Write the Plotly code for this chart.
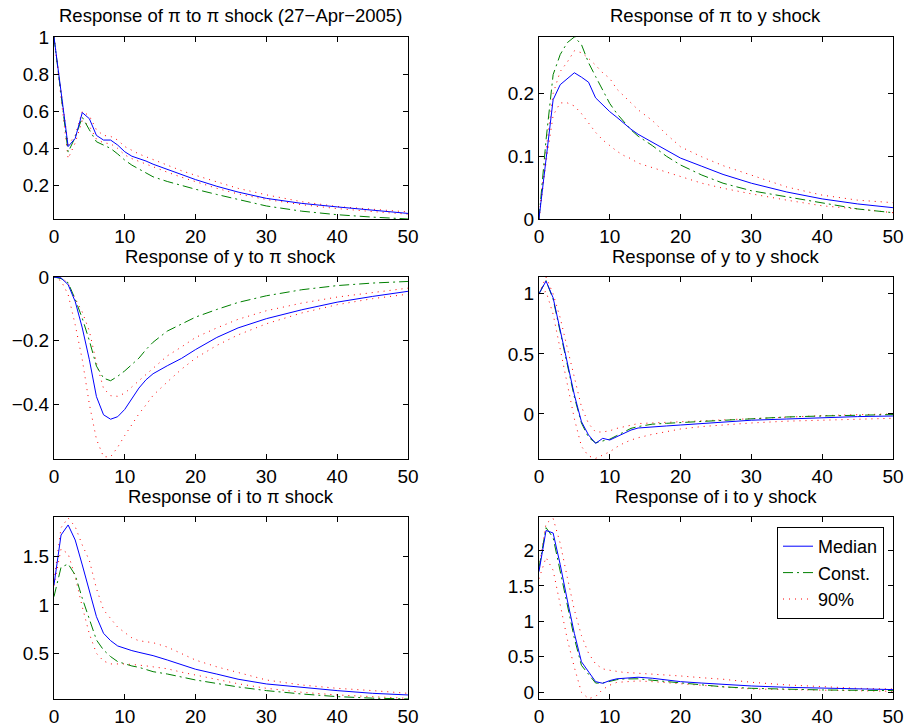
# impulse responses: median, constant-parameter model and 90% bands
import plotly.graph_objects as go

# horizons (quarters)
t = [0, 1, 2, 3, 4, 5, 6, 7, 8, 9, 10, 11, 12, 13, 14, 16, 18, 20, 23, 26, 30, 35, 40, 45, 50]

# response of pi to pi shock
pi_pi_med = [1.0, 0.70, 0.41, 0.454, 0.593, 0.56, 0.47, 0.445, 0.445, 0.418, 0.382, 0.358, 0.346, 0.332, 0.315, 0.287, 0.258, 0.232, 0.196, 0.165, 0.131, 0.104, 0.085, 0.066, 0.05]
pi_pi_const = [1.0, 0.69, 0.38, 0.46, 0.568, 0.50, 0.436, 0.418, 0.40, 0.37, 0.337, 0.31, 0.29, 0.268, 0.247, 0.222, 0.20, 0.18, 0.152, 0.125, 0.09, 0.062, 0.043, 0.03, 0.02]
pi_pi_hi = [1.0, 0.72, 0.42, 0.47, 0.60, 0.575, 0.50, 0.47, 0.465, 0.445, 0.41, 0.39, 0.37, 0.355, 0.34, 0.31, 0.28, 0.255, 0.22, 0.185, 0.15, 0.113, 0.087, 0.072, 0.058]
pi_pi_lo = [1.0, 0.68, 0.345, 0.43, 0.55, 0.52, 0.45, 0.43, 0.425, 0.40, 0.365, 0.345, 0.33, 0.315, 0.30, 0.272, 0.245, 0.22, 0.185, 0.155, 0.125, 0.097, 0.076, 0.06, 0.046]

# response of pi to y shock
pi_y_med = [0.0, 0.099, 0.19, 0.214, 0.223, 0.233, 0.226, 0.218, 0.193, 0.182, 0.171, 0.162, 0.152, 0.143, 0.135, 0.122, 0.11, 0.097, 0.084, 0.071, 0.057, 0.043, 0.032, 0.024, 0.018]
pi_y_const = [0.0, 0.126, 0.23, 0.262, 0.281, 0.29, 0.278, 0.249, 0.227, 0.206, 0.184, 0.168, 0.155, 0.142, 0.132, 0.117, 0.10, 0.086, 0.07, 0.057, 0.045, 0.035, 0.025, 0.016, 0.01]
pi_y_hi = [0.0, 0.11, 0.20, 0.235, 0.25, 0.268, 0.265, 0.256, 0.245, 0.233, 0.224, 0.207, 0.196, 0.185, 0.174, 0.157, 0.135, 0.115, 0.099, 0.085, 0.07, 0.051, 0.038, 0.03, 0.026]
pi_y_lo = [0.0, 0.09, 0.165, 0.185, 0.185, 0.18, 0.168, 0.153, 0.138, 0.126, 0.117, 0.108, 0.101, 0.096, 0.089, 0.082, 0.074, 0.067, 0.057, 0.049, 0.04, 0.03, 0.021, 0.016, 0.01]

# response of y to pi shock
y_pi_med = [0.0, -0.003, -0.024, -0.077, -0.16, -0.26, -0.376, -0.433, -0.447, -0.439, -0.416, -0.381, -0.349, -0.323, -0.304, -0.279, -0.256, -0.228, -0.19, -0.16, -0.131, -0.103, -0.079, -0.061, -0.045]
y_pi_const = [0.0, -0.005, -0.018, -0.07, -0.13, -0.2, -0.28, -0.318, -0.326, -0.312, -0.295, -0.275, -0.255, -0.228, -0.205, -0.17, -0.147, -0.126, -0.102, -0.08, -0.059, -0.04, -0.027, -0.019, -0.014]
y_pi_hi = [0.0, 0.0, -0.02, -0.068, -0.11, -0.17, -0.27, -0.35, -0.373, -0.375, -0.365, -0.345, -0.328, -0.307, -0.286, -0.248, -0.22, -0.19, -0.16, -0.133, -0.106, -0.082, -0.063, -0.05, -0.035]
y_pi_lo = [0.0, -0.012, -0.055, -0.15, -0.26, -0.40, -0.51, -0.565, -0.565, -0.535, -0.498, -0.462, -0.43, -0.402, -0.372, -0.33, -0.29, -0.255, -0.215, -0.182, -0.147, -0.113, -0.087, -0.068, -0.054]

# response of y to y shock
y_y_med = [1.0, 1.106, 0.967, 0.70, 0.423, 0.159, -0.064, -0.175, -0.245, -0.203, -0.217, -0.189, -0.162, -0.134, -0.117, -0.106, -0.10, -0.092, -0.08, -0.066, -0.052, -0.042, -0.031, -0.022, -0.017]
y_y_const = [1.0, 1.11, 0.955, 0.68, 0.40, 0.14, -0.075, -0.195, -0.24, -0.225, -0.21, -0.18, -0.15, -0.12, -0.105, -0.085, -0.078, -0.072, -0.06, -0.048, -0.036, -0.025, -0.017, -0.009, -0.005]
y_y_hi = [1.0, 1.14, 1.0, 0.80, 0.55, 0.30, 0.06, -0.08, -0.15, -0.15, -0.14, -0.12, -0.105, -0.09, -0.08, -0.075, -0.07, -0.065, -0.057, -0.048, -0.036, -0.025, -0.014, -0.006, 0.0]
y_y_lo = [1.0, 1.02, 0.83, 0.54, 0.22, -0.04, -0.27, -0.35, -0.37, -0.345, -0.315, -0.275, -0.242, -0.217, -0.198, -0.17, -0.145, -0.125, -0.105, -0.09, -0.075, -0.06, -0.05, -0.042, -0.036]

# response of i to pi shock
i_pi_med = [1.207, 1.724, 1.828, 1.672, 1.414, 1.138, 0.879, 0.707, 0.631, 0.576, 0.548, 0.528, 0.51, 0.493, 0.476, 0.431, 0.38, 0.335, 0.285, 0.232, 0.183, 0.148, 0.114, 0.086, 0.069]
i_pi_const = [1.086, 1.39, 1.424, 1.31, 1.069, 0.845, 0.638, 0.534, 0.466, 0.414, 0.39, 0.369, 0.355, 0.334, 0.31, 0.286, 0.255, 0.224, 0.188, 0.152, 0.114, 0.079, 0.052, 0.036, 0.028]
i_pi_hi = [1.25, 1.8, 1.9, 1.81, 1.62, 1.46, 1.17, 0.95, 0.86, 0.77, 0.715, 0.66, 0.63, 0.62, 0.61, 0.565, 0.5, 0.43, 0.36, 0.30, 0.224, 0.172, 0.138, 0.114, 0.086]
i_pi_lo = [1.2, 1.58, 1.53, 1.29, 0.98, 0.70, 0.50, 0.42, 0.39, 0.392, 0.39, 0.385, 0.38, 0.37, 0.36, 0.34, 0.305, 0.276, 0.23, 0.185, 0.138, 0.097, 0.069, 0.052, 0.034]

# response of i to y shock
i_y_med = [1.70, 2.28, 2.245, 1.80, 1.30, 0.83, 0.43, 0.29, 0.15, 0.127, 0.165, 0.19, 0.198, 0.207, 0.212, 0.198, 0.175, 0.15, 0.13, 0.11, 0.089, 0.07, 0.056, 0.047, 0.038]
i_y_const = [1.75, 2.32, 2.18, 1.70, 1.20, 0.76, 0.38, 0.26, 0.13, 0.13, 0.155, 0.178, 0.188, 0.19, 0.19, 0.17, 0.15, 0.127, 0.10, 0.077, 0.056, 0.042, 0.033, 0.028, 0.024]
i_y_hi = [1.75, 2.38, 2.45, 2.10, 1.62, 1.16, 0.80, 0.55, 0.40, 0.33, 0.31, 0.29, 0.28, 0.275, 0.27, 0.26, 0.245, 0.23, 0.205, 0.184, 0.141, 0.104, 0.08, 0.056, 0.047]
i_y_lo = [1.60, 1.90, 1.72, 1.25, 0.75, 0.35, 0.0, -0.09, -0.06, 0.04, 0.10, 0.14, 0.15, 0.16, 0.16, 0.15, 0.135, 0.118, 0.09, 0.07, 0.047, 0.038, 0.028, 0.024, 0.014]

titles = [
    'Response of \u03c0 to \u03c0 shock (27\u2212Apr\u22122005)',
    'Response of \u03c0 to y shock',
    'Response of y to \u03c0 shock',
    'Response of y to y shock',
    'Response of i to \u03c0 shock',
    'Response of i to y shock',
]
x_ticks = [0, 10, 20, 30, 40, 50]
y_ticks = [
    [0.2, 0.4, 0.6, 0.8, 1],
    [0, 0.1, 0.2],
    [-0.4, -0.2, 0],
    [0, 0.5, 1],
    [0.5, 1, 1.5],
    [0, 0.5, 1, 1.5, 2],
]

panels = [
    (pi_pi_med, pi_pi_const, pi_pi_hi, pi_pi_lo, [0.02, 1.0]),
    (pi_y_med, pi_y_const, pi_y_hi, pi_y_lo, [0.0, 0.29]),
    (y_pi_med, y_pi_const, y_pi_hi, y_pi_lo, [-0.572, 0.0]),
    (y_y_med, y_y_const, y_y_hi, y_y_lo, [-0.375, 1.14]),
    (i_pi_med, i_pi_const, i_pi_hi, i_pi_lo, [0.027, 1.91]),
    (i_y_med, i_y_const, i_y_hi, i_y_lo, [-0.095, 2.47]),
]

x_dom = [[0.0597, 0.4513], [0.5962, 0.9878]]
y_dom = [[0.6992, 0.9492], [0.3695, 0.6195], [0.0398, 0.2898]]
title_y = [1 - 15 / 728, 1 - 256 / 728, 1 - 496 / 728]

FONT = 'Liberation Sans, Arial, sans-serif'
BLUE = 'rgb(0,0,255)'
GREEN = 'rgb(0,128,0)'
RED = 'rgb(255,0,0)'

fig = go.Figure()
layout = {}
annotations = []

for i, (med, const, hi, lo, yr) in enumerate(panels):
    n = i + 1
    row, col = i // 2, i % 2
    xa = 'x' if n == 1 else 'x%d' % n
    ya = 'y' if n == 1 else 'y%d' % n
    last = (i == 5)

    # 90% bands
    fig.add_trace(go.Scatter(x=t, y=hi, mode='lines', xaxis=xa, yaxis=ya,
                             line=dict(color=RED, width=1, dash='1px,5px'),
                             name='90%', showlegend=last, legendrank=3))
    fig.add_trace(go.Scatter(x=t, y=lo, mode='lines', xaxis=xa, yaxis=ya,
                             line=dict(color=RED, width=1, dash='1px,5px'),
                             name='90%', showlegend=False))
    # constant parameter
    fig.add_trace(go.Scatter(x=t, y=const, mode='lines', xaxis=xa, yaxis=ya,
                             line=dict(color=GREEN, width=1, dash='10px,4px,2px,4px'),
                             name='Const.', showlegend=last, legendrank=2))
    # median
    fig.add_trace(go.Scatter(x=t, y=med, mode='lines', xaxis=xa, yaxis=ya,
                             line=dict(color=BLUE, width=1),
                             name='Median', showlegend=last, legendrank=1))

    common = dict(showline=True, linecolor='black', linewidth=1, mirror='ticks',
                  ticks='inside', ticklen=5, tickcolor='black', showgrid=False,
                  zeroline=False, automargin=False,
                  tickfont=dict(family=FONT, size=19, color='black'))
    layout['xaxis' if n == 1 else 'xaxis%d' % n] = dict(
        domain=x_dom[col], range=[0, 50], tickmode='array', tickvals=x_ticks,
        anchor=ya, **common)
    layout['yaxis' if n == 1 else 'yaxis%d' % n] = dict(
        domain=y_dom[row], range=yr, tickmode='array', tickvals=y_ticks[i],
        anchor=xa, **common)

    annotations.append(dict(text=titles[i], xref='paper', yref='paper',
                            x=sum(x_dom[col]) / 2, y=title_y[row],
                            xanchor='center', yanchor='middle', showarrow=False,
                            font=dict(family=FONT, size=18.5, color='black')))

fig.update_layout(**layout)
fig.update_layout(
    width=904, height=728,
    margin=dict(l=0, r=0, t=0, b=0, autoexpand=False),
    paper_bgcolor='white', plot_bgcolor='white',
    annotations=annotations,
    legend=dict(x=884 / 904, y=1 - 527 / 728, xanchor='right', yanchor='top',
                bgcolor='white', bordercolor='black', borderwidth=1,
                font=dict(family=FONT, size=18, color='black'),
                itemwidth=30, tracegroupgap=0),
)

# page margin off so the 904x728 figure fills the window exactly
fig.write_html('out.html', config={'displayModeBar': False},
               post_script="document.body.style.margin='0';document.body.style.overflow='hidden';")
